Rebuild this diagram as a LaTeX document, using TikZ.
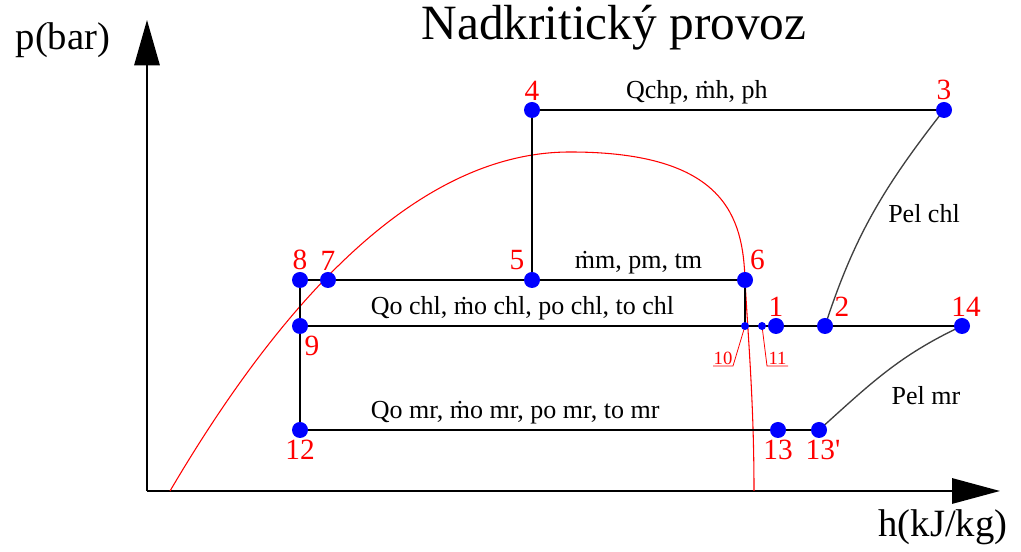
\documentclass[tikz,border=0pt]{standalone}
\usepackage{fontspec}
\setmainfont{Liberation Serif}
\usepackage{tkz-euclide}
\usetikzlibrary{arrows.meta}

\tikzset{num/.style={red,font=\fontsize{22}{24}\selectfont},
  lab/.style={font=\fontsize{19.5}{22}\selectfont},
  small/.style={red,inner sep=1pt,font=\fontsize{14}{16}\selectfont},
  dot/.style={blue}}

\begin{document}
\begin{tikzpicture}[x=0.75pt,y=0.75pt]
    \useasboundingbox (0,0) rectangle (1021,552);
    \tkzDefPoint(147,61){O}
    \tkzDefPoint(1000,61){X}
    \tkzDefPoint(147,532){Y}
    \tkzDefPoint(532,442){P4}
    \tkzDefPoint(944,442){P3}
    \tkzDefPoint(532,272){P5}
    \tkzDefPoint(745,272){P6}
    \tkzDefPoint(328,272){P7}
    \tkzDefPoint(300,272){P8}
    \tkzDefPoint(300,226){P9}
    \tkzDefPoint(745,226){P10}
    \tkzDefPoint(762,226){P11}
    \tkzDefPoint(776,226){P1}
    \tkzDefPoint(825,226){P2}
    \tkzDefPoint(962,226){P14}
    \tkzDefPoint(300,122){P12}
    \tkzDefPoint(778,122){P13}
    \tkzDefPoint(819,122){P13p}
    \tkzDefPoint(733,186){L10}
    \tkzDefPoint(713,186){U10}
    \tkzDefPoint(767,186){L11}
    \tkzDefPoint(788,186){U11}
    \tkzDefPoint(170,61){K1}
    \tkzDefPoint(570,400){K2}
    \tkzDefPoint(754,61){K3}
    \draw[line width=1.5pt,-{Triangle[length=36pt,width=19pt]}] (O) -- (X);
    \draw[line width=1.5pt,-{Triangle[length=34pt,width=19pt]}] (O) -- (Y);
    \draw[red,line width=.8pt] (K1) .. controls (303,287) and (437,400) .. (K2)
      .. controls (725,400) and (743,335) .. (P6) .. controls (748,215) and (754,150) .. (K3);
    \tkzDrawSegments[line width=1.1pt](P4,P3 P4,P5 P8,P6 P6,P10 P9,P14 P8,P12 P12,P13p)
    \draw[black!75,line width=1pt] (P3) to[out=232,in=72] (P2);
    \draw[black!75,line width=1pt] (P14) to[out=205,in=42] (P13p);
    \draw[red,line width=.6pt] (P10) -- (L10) -- (U10) (P11) -- (L11) -- (U11);
    \foreach \p in {P4,P3,P5,P6,P7,P8,P9,P1,P2,P14,P12,P13,P13p}
      \fill[dot] (\p) circle (8);
    \fill[dot] (P10) circle (4) (P11) circle (4);
    \tkzLabelPoint[num,above=5](P4){4}
    \tkzLabelPoint[num,above=5](P3){3}
    \tkzLabelPoint[num,above left=5 and 3](P5){5}
    \tkzLabelPoint[num,above right=5 and 0.5](P6){6}
    \tkzLabelPoint[num,above=5](P7){7}
    \tkzLabelPoint[num,above=5](P8){8}
    \tkzLabelPoint[num,below right=5 and 0](P9){9}
    \tkzLabelPoint[num,above=5](P1){1}
    \tkzLabelPoint[num,above right=5 and 5](P2){2}
    \tkzLabelPoint[num,above=5,xshift=3](P14){14}
    \tkzLabelPoint[num,below=5](P12){12}
    \tkzLabelPoint[num,below=5](P13){13}
    \tkzLabelPoint[num,below=5,xshift=3](P13p){13\textquotesingle}
    \path (U10) -- (L10) node[midway,above=0,small]{10};
    \path (L11) -- (U11) node[midway,above=0,small]{11};
    \tkzLabelSegment[lab,above=1,pos=.4](P4,P3){Qchp, \.{m}h, ph}
    \tkzLabelSegment[lab,above=1](P5,P6){\.{m}m, pm, tm}
    \tkzLabelSegment[lab,above=1](P9,P10){Qo chl, \.{m}o chl, po chl, to chl}
    \tkzLabelSegment[lab,above=1,pos=.45](P12,P13){Qo mr, \.{m}o mr, po mr, to mr}
    \node[lab] (pelchl) at (924,338) {Pel chl};
    \node[lab] (pelmr) at (926,156) {Pel mr};
    \node[font=\fontsize{29}{31}\selectfont] (ylab) at (63,512) {p(bar)};
    \node[font=\fontsize{29}{31}\selectfont] (xlab) at (943,25) {h(kJ/kg)};
    \node[font=\fontsize{37}{40}\selectfont] (title) at (614,524) {Nadkritický provoz};
\end{tikzpicture}
\end{document}
